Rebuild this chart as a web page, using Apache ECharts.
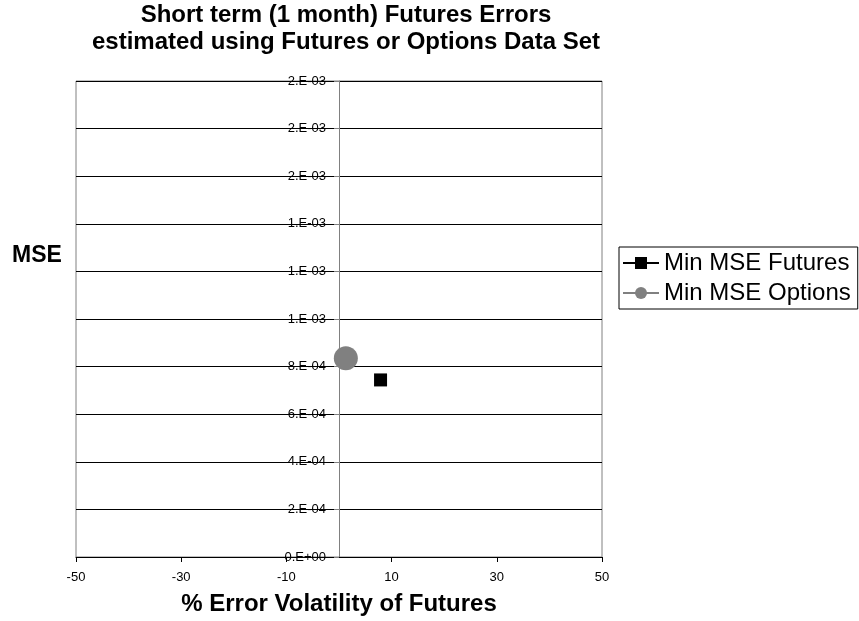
<!DOCTYPE html>
<html>
<head>
<meta charset="utf-8">
<script src="https://cdn.jsdelivr.net/npm/echarts@6/dist/echarts.min.js"></script>
<style>
html,body{margin:0;padding:0;background:#fff;}
#main{width:859px;height:621px;}
</style>
</head>
<body>
<div id="main"></div>
<script>
// ---- data ----
const titleLines = ['Short term (1 month) Futures Errors', 'estimated using Futures or Options Data Set'];
const xAxisTitle = '% Error Volatility of Futures';
const yAxisTitle = 'MSE';
const seriesNames = ['Min MSE Futures', 'Min MSE Options'];
const futuresX = [7.9];
const futuresY = [0.000744];
const optionsX = [1.3];
const optionsY = [0.000835];
const xMin = -50, xMax = 50, xStep = 20;
const yMin = 0, yMax = 0.002, yStep = 0.0002;

function sciLabel(v) {
  if (Math.abs(v) < 1e-12) return '0.E+00';
  const s = v.toExponential(0);
  const parts = s.split('e');
  const e = parseInt(parts[1], 10);
  const sign = e < 0 ? '-' : '+';
  return parts[0] + '.E' + sign + String(Math.abs(e)).padStart(2, '0');
}

const FONT = '"Liberation Sans", Arial, sans-serif';
const GRID_LEFT = 76, GRID_RIGHT = 257, CHART_W = 859;
// the y axis is drawn at x = 0 (middle of the symmetric x range)
const yAxisShift = -((CHART_W - GRID_LEFT - GRID_RIGHT) * (0 - xMin) / (xMax - xMin));

const chart = echarts.init(document.getElementById('main'), null, {renderer: 'canvas'});
chart.setOption({
  animation: false,
  backgroundColor: '#ffffff',
  textStyle: {fontFamily: FONT},
  graphic: [
    {type: 'text', x: 346, y: 15, style: {text: titleLines[0], font: 'bold 24px ' + FONT, fill: '#000', align: 'center', verticalAlign: 'middle'}},
    {type: 'text', x: 346, y: 42, style: {text: titleLines[1], font: 'bold 24px ' + FONT, fill: '#000', align: 'center', verticalAlign: 'middle'}},
    {type: 'text', x: 37, y: 256, style: {text: yAxisTitle, font: 'bold 23px ' + FONT, fill: '#000', align: 'center', verticalAlign: 'middle'}}
  ],
  grid: {
    left: GRID_LEFT, right: GRID_RIGHT, top: 81, bottom: 64,
    show: true, borderColor: '#808080', borderWidth: 1, backgroundColor: 'transparent'
  },
  legend: {
    orient: 'vertical',
    left: 619, top: 247,
    backgroundColor: '#fff',
    borderColor: '#000', borderWidth: 1,
    padding: [4, 7, 4, 3],
    itemWidth: 36, itemHeight: 15, itemGap: 6,
    textStyle: {fontSize: 24, color: '#000', fontFamily: FONT},
    data: seriesNames
  },
  xAxis: {
    type: 'value', min: xMin, max: xMax, interval: xStep,
    name: xAxisTitle, nameLocation: 'middle', nameGap: 35,
    nameTextStyle: {fontSize: 24, fontWeight: 'bold', color: '#000', fontFamily: FONT},
    axisLine: {onZero: false, lineStyle: {color: '#000', width: 1}},
    axisTick: {show: true, length: 5, lineStyle: {color: '#000'}},
    axisLabel: {fontSize: 13, color: '#000', margin: 14, fontFamily: FONT},
    splitLine: {show: false}
  },
  yAxis: {
    type: 'value', min: yMin, max: yMax, interval: yStep,
    position: 'left', offset: yAxisShift,
    axisLine: {show: true, onZero: false, lineStyle: {color: '#808080', width: 1}},
    axisTick: {show: true, length: 5, lineStyle: {color: '#808080'}},
    axisLabel: {fontSize: 13, color: '#000', margin: 13, formatter: sciLabel, fontFamily: FONT, showMinLabel: true, showMaxLabel: true},
    splitLine: {show: true, lineStyle: {color: '#000', width: 1}}
  },
  series: [
    {
      name: seriesNames[0], type: 'line',
      data: futuresX.map((x, i) => [x, futuresY[i]]),
      symbol: 'rect', symbolSize: 13, showSymbol: true,
      itemStyle: {color: '#000'},
      lineStyle: {color: '#000', width: 1.5},
      z: 5
    },
    {
      name: seriesNames[1], type: 'line',
      data: optionsX.map((x, i) => [x, optionsY[i]]),
      symbol: 'circle', symbolSize: 24, showSymbol: true,
      itemStyle: {color: '#808080'},
      lineStyle: {color: '#808080', width: 1.5},
      z: 5
    }
  ]
});
</script>
</body>
</html>
